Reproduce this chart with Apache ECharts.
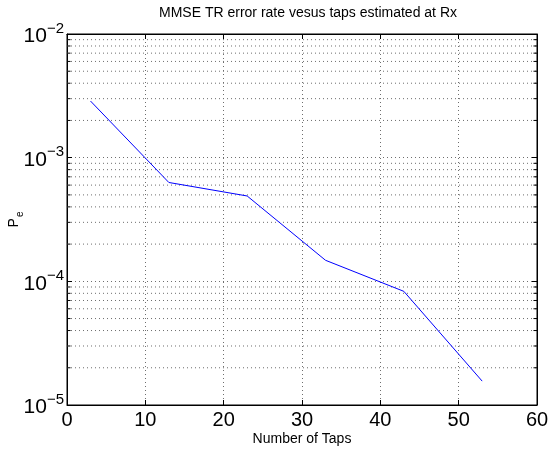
<!DOCTYPE html>
<html><head><meta charset="utf-8">
<script src="https://cdn.jsdelivr.net/npm/echarts@6/dist/echarts.min.js"></script>
<style>html,body{margin:0;padding:0;background:#fff}#c{width:549px;height:451px}</style>
</head><body><div id="c"></div>
<script>
// Error probability of the MMSE TR receiver against the number of estimated taps
const taps = [3, 13, 23, 33, 43, 53];
const errorRate = [2.87e-3, 6.3e-4, 4.9e-4, 1.48e-4, 8.3e-5, 1.56e-5];
const xRange = [0, 60];
const xStep = 10;
const yRange = [1e-5, 1e-2];
const titleText = 'MMSE TR error rate vesus taps estimated at Rx';
const xName = 'Number of Taps';

const FONT = 'Liberation Sans, Arial, Helvetica, sans-serif';

// minor decade values 2..9 x 10^k for the dotted log grid
const minorValues = [];
for (let k = -5; k < -2; k++) {
  for (let m = 2; m <= 9; m++) minorValues.push(m * Math.pow(10, k));
}
const tickLen = 0.45; // minor tick length in x units
const dotted = { color: '#6e6e6e', width: 1, type: [1, 3] };

const helperLine = (pts, style) => ({
  type: 'line', data: pts, silent: true, showSymbol: false, symbol: 'none',
  lineStyle: style, z: 1, animation: false, tooltip: { show: false }
});

const minorSeries = [];
minorValues.forEach(v => {
  minorSeries.push(helperLine([[xRange[0], v], [xRange[1], v]], dotted));
  minorSeries.push(helperLine([[xRange[0], v], [xRange[0] + tickLen, v]], { color: '#000', width: 1 }));
  minorSeries.push(helperLine([[xRange[1] - tickLen, v], [xRange[1], v]], { color: '#000', width: 1 }));
});

const powLabel = v => {
  const e = Math.round(Math.log10(v));
  return '{b|10}{s|' + (e < 0 ? '\u2212' + (-e) : e) + '}';
};
const powRich = {
  b: { fontSize: 21, fontFamily: FONT, color: '#000', verticalAlign: 'bottom', lineHeight: 26 },
  s: { fontSize: 15, fontFamily: FONT, color: '#000', verticalAlign: 'top', lineHeight: 26, padding: [0, 0, 12, 0] }
};

const chart = echarts.init(document.getElementById('c'), null, { renderer: 'canvas' });
chart.setOption({
  backgroundColor: '#fff',
  animation: false,
  title: {
    text: titleText, left: 303, top: 1, textAlign: 'center',
    textStyle: { fontFamily: FONT, fontSize: 14, fontWeight: 'normal', color: '#000' }
  },
  grid: {
    left: 67, right: 12, top: 34, bottom: 46, containLabel: false, outerBoundsMode: 'none',
    show: true, borderColor: '#000', borderWidth: 1, backgroundColor: '#fff'
  },
  xAxis: [{
    type: 'value', min: xRange[0], max: xRange[1], interval: xStep, position: 'bottom',
    name: xName, nameLocation: 'middle', nameGap: 27, nameMoveOverlap: false,
    nameTextStyle: { fontFamily: FONT, fontSize: 14, color: '#000' },
    axisLine: { show: true, onZero: false, lineStyle: { color: '#000' } },
    axisTick: { inside: true, length: 5, lineStyle: { color: '#000' } },
    axisLabel: { fontFamily: FONT, fontSize: 20, color: '#000', margin: 5 },
    splitLine: { show: true, lineStyle: dotted }
  }, {
    type: 'value', min: xRange[0], max: xRange[1], interval: xStep, position: 'top',
    axisLine: { show: true, onZero: false, lineStyle: { color: '#000' } },
    axisTick: { inside: true, length: 5, lineStyle: { color: '#000' } },
    axisLabel: { show: false }, splitLine: { show: false }
  }],
  yAxis: [{
    type: 'log', logBase: 10, min: yRange[0], max: yRange[1], position: 'left',
    name: '{p|P}{e|e}', nameLocation: 'middle', nameGap: 42, nameRotate: 90, nameMoveOverlap: false,
    nameTextStyle: {
      rich: {
        p: { fontFamily: FONT, fontSize: 14, color: '#000', verticalAlign: 'top', lineHeight: 18 },
        e: { fontFamily: FONT, fontSize: 10, color: '#000', verticalAlign: 'bottom', lineHeight: 18, padding: [7, 0, 0, 1] }
      }
    },
    axisLine: { show: true, onZero: false, lineStyle: { color: '#000' } },
    axisTick: { inside: true, length: 5, lineStyle: { color: '#000' } },
    axisLabel: { formatter: powLabel, rich: powRich, margin: 3 },
    splitLine: { show: true, lineStyle: dotted }
  }, {
    type: 'log', logBase: 10, min: yRange[0], max: yRange[1], position: 'right',
    axisLine: { show: true, onZero: false, lineStyle: { color: '#000' } },
    axisTick: { inside: true, length: 5, lineStyle: { color: '#000' } },
    axisLabel: { show: false }, splitLine: { show: false }
  }],
  series: minorSeries.concat([{
    type: 'line',
    data: taps.map((t, i) => [t, errorRate[i]]),
    showSymbol: false, symbol: 'none',
    lineStyle: { color: '#0000ff', width: 1 },
    z: 5
  }])
});
</script></body></html>
